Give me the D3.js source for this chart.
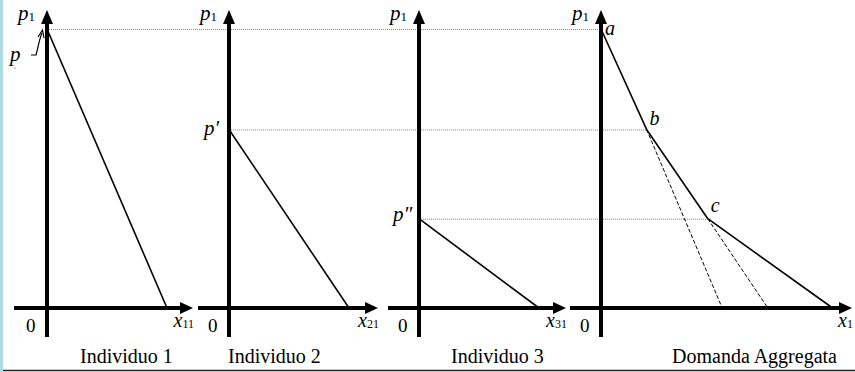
<!DOCTYPE html>
<html>
<head>
<meta charset="utf-8">
<script src="https://cdn.jsdelivr.net/npm/d3@7"></script>
<style>
  html, body { margin: 0; padding: 0; background: #fff; }
  svg { display: block; }
  text { font-family: "Liberation Serif", "Times New Roman", serif; fill: #000; }
</style>
</head>
<body>
<svg id="chart" width="855" height="372"></svg>
<script>
// Panel titles
const panelTitles = ["Individuo 1", "Individuo 2", "Individuo 3", "Domanda Aggregata"];
const quantityLabels = [["x", "11"], ["x", "21"], ["x", "31"], ["x", "1"]];

// Price levels: p1 (top), p' and p'' (choke prices of individuals 2 and 3)
const priceMax = 10;
const priceLevels = [10, 6.4, 3.2];

// Individual linear demands: choke price and quantity at zero price
const chokePrices = [10, 6.4, 3.2];
const zeroPriceQty = [10, 10, 10];

// Aggregate demand kinked curve a-b-c-end
const aggQty = [0, 3.8, 8.9, 19.3];
const aggPrice = [10, 6.4, 3.2, 0];
const kinkNames = ["a", "b", "c"];

// Dashed extensions of the upper aggregate segments down to the quantity axis
const extFromIndex = [1, 2];
const extEndQty = [10.1, 13.9];

const svg = d3.select("#chart");

// Layout of the four panels: vertical axis position and horizontal axis span
const layout = [
  { ax: 47,  xStart: 14,  xTip: 193 },
  { ax: 229, xStart: 198, xTip: 378 },
  { ax: 419, xStart: 388, xTip: 566 },
  { ax: 601, xStart: 570, xTip: 852 }
];
const titleX = [80, 228, 451, 672];

const y = d3.scaleLinear().domain([0, priceMax]).range([308, 29]);
const xScales = layout.map(l => d3.scaleLinear().domain([0, 10]).range([l.ax, l.ax + 120]));

// left edge strip and bottom rule
svg.append("rect").attr("x", 0).attr("y", 0).attr("width", 3).attr("height", 372).attr("fill", "#a9dde3");
svg.append("line").attr("x1", 3).attr("x2", 855).attr("y1", 370.5).attr("y2", 370.5)
  .attr("stroke", "#222").attr("stroke-width", 1.5);

// dotted guide lines across panels
const guides = [
  { p: priceLevels[0], from: xScales[0](0), to: xScales[3](aggQty[0]) },
  { p: priceLevels[1], from: xScales[1](0), to: xScales[3](aggQty[1]) },
  { p: priceLevels[2], from: xScales[2](0), to: xScales[3](aggQty[2]) }
];
svg.selectAll("line.guide").data(guides).join("line")
  .attr("class", "guide")
  .attr("x1", d => d.from).attr("x2", d => d.to)
  .attr("y1", d => y(d.p) + 0.5).attr("y2", d => y(d.p) + 0.5)
  .attr("stroke", "#8a8a8a").attr("stroke-width", 1).attr("stroke-dasharray", "1,1");

// axes with arrowheads
const axisG = svg.append("g");
layout.forEach(l => {
  const yTop = 10, yBottom = 337, yx = y(0);
  axisG.append("line").attr("x1", l.ax).attr("x2", l.ax).attr("y1", yBottom).attr("y2", yTop + 12)
    .attr("stroke", "#000").attr("stroke-width", 4);
  axisG.append("path").attr("d", `M${l.ax},${yTop} L${l.ax - 6},${yTop + 14} L${l.ax + 6},${yTop + 14} Z`).attr("fill", "#000");
  axisG.append("line").attr("x1", l.xStart).attr("x2", l.xTip - 11).attr("y1", yx).attr("y2", yx)
    .attr("stroke", "#000").attr("stroke-width", 4);
  axisG.append("path").attr("d", `M${l.xTip},${yx} L${l.xTip - 13},${yx - 6} L${l.xTip - 13},${yx + 6} Z`).attr("fill", "#000");
});

// individual demand lines
const line = d3.line();
chokePrices.forEach((cp, i) => {
  const xs = xScales[i];
  svg.append("path")
    .attr("d", line([[xs(0), y(cp)], [xs(zeroPriceQty[i]), y(0)]]))
    .attr("stroke", "#000").attr("stroke-width", 1.6).attr("fill", "none");
});

// aggregate demand
const xa = xScales[3];
const aggPts = aggQty.map((q, i) => [xa(q), y(aggPrice[i])]);
extFromIndex.forEach((k, i) => {
  svg.append("path")
    .attr("d", line([aggPts[k], [xa(extEndQty[i]), y(0)]]))
    .attr("stroke", "#000").attr("stroke-width", 1).attr("stroke-dasharray", "4,2").attr("fill", "none");
});
svg.append("path").attr("d", line(aggPts))
  .attr("stroke", "#000").attr("stroke-width", 1.6).attr("fill", "none").attr("stroke-linejoin", "round");

// kink labels
const kinkOffsets = [[4, 6], [3, -4], [3, -7]];
kinkNames.forEach((n, i) => {
  svg.append("text").attr("x", aggPts[i][0] + kinkOffsets[i][0]).attr("y", aggPts[i][1] + kinkOffsets[i][1])
    .attr("font-size", 20).attr("font-style", "italic").text(n);
});

// price labels on the vertical axes
function subLabel(x, yy, main, sub, anchor, size) {
  const fs = size || 21;
  const t = svg.append("text").attr("x", x).attr("y", yy).attr("text-anchor", anchor || "start");
  t.append("tspan").attr("font-size", fs).attr("font-style", "italic").text(main);
  if (sub) t.append("tspan").attr("font-size", Math.round(fs * 0.62)).attr("dy", 1).text(sub);
  return t;
}
layout.forEach(l => subLabel(l.ax - 29, 20, "p", "1"));
subLabel(204, 135, "p′", null);
subLabel(393, 221, "p″", null);

// "p" with a small arrow pointing to the top of the first demand line
svg.append("text").attr("x", 10).attr("y", 61).attr("font-size", 21).attr("font-style", "italic").text("p");
svg.append("circle").attr("cx", 15).attr("cy", 68).attr("r", 0.6).attr("fill", "#444");
svg.append("path").attr("d", "M31,55 L36,55 C38,48 39,40 42,33")
  .attr("stroke", "#000").attr("stroke-width", 1.2).attr("fill", "none");
svg.append("path").attr("d", "M38,37 L42.5,30 L44,38")
  .attr("stroke", "#000").attr("stroke-width", 1.2).attr("fill", "none");

// origin and quantity labels
layout.forEach((l, i) => {
  svg.append("text").attr("x", l.ax - 21).attr("y", 332).attr("font-size", 19).text("0");
  subLabel(l.xTip + 1, 327, quantityLabels[i][0], quantityLabels[i][1], "end", 20);
});

// panel titles
panelTitles.forEach((t, i) => {
  svg.append("text").attr("x", titleX[i]).attr("y", 363).attr("font-size", 20).text(t);
});
</script>
</body>
</html>
